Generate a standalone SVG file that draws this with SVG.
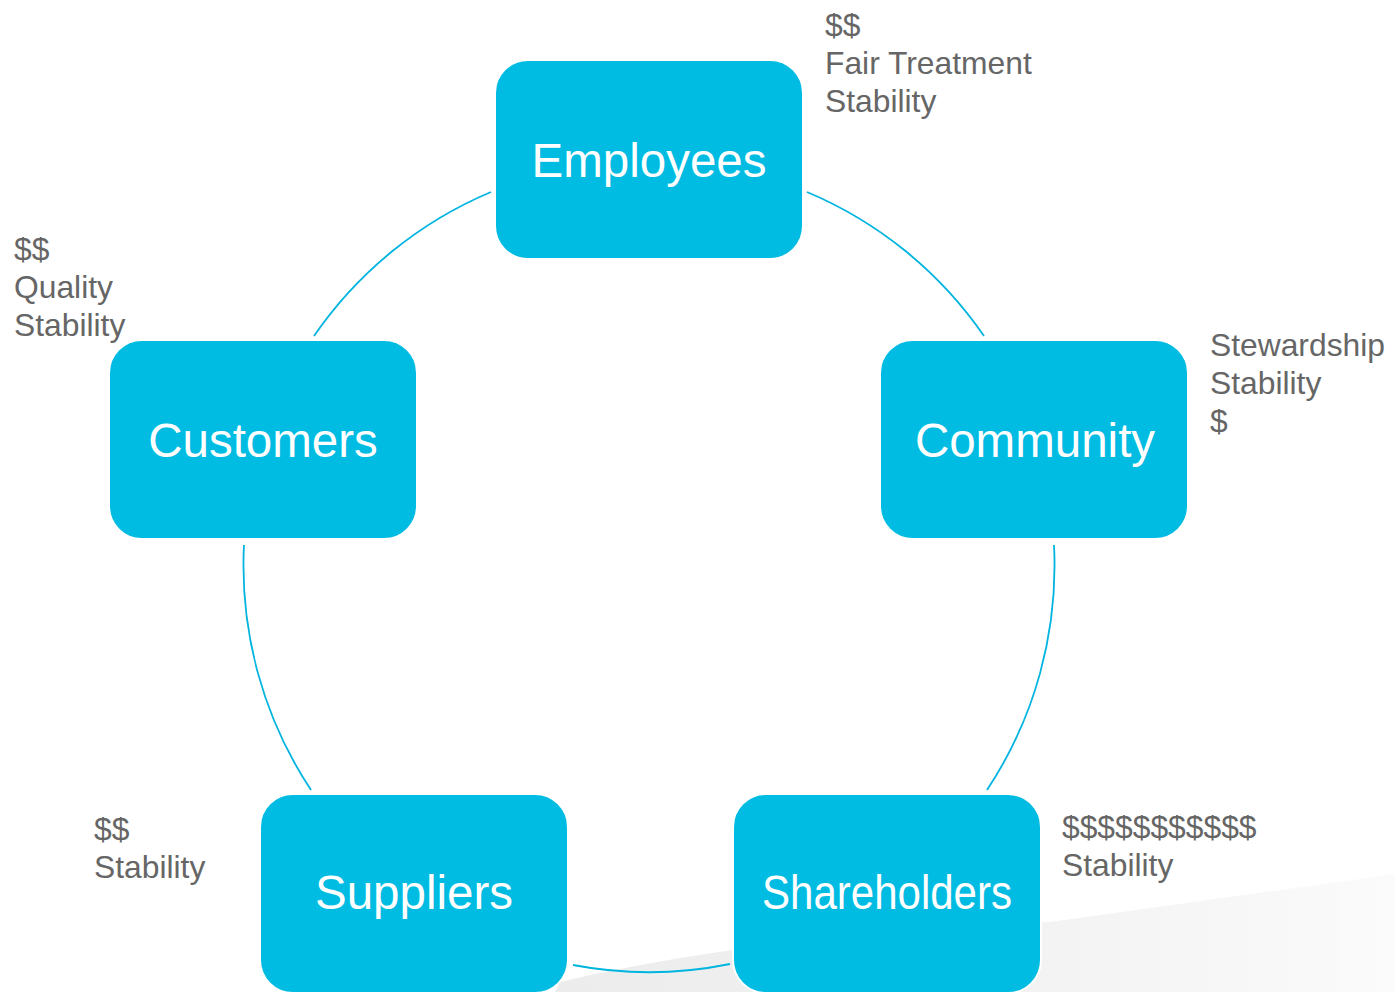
<svg xmlns="http://www.w3.org/2000/svg" width="1395" height="992" viewBox="0 0 1395 992">
<defs>
<linearGradient id="floor" x1="0" y1="0" x2="1" y2="0">
<stop offset="0" stop-color="#ececec"/>
<stop offset="0.6" stop-color="#f3f3f3"/>
<stop offset="1" stop-color="#fbfbfb"/>
</linearGradient>
<style>
.box{fill:#00bce3;stroke:#ffffff;stroke-width:2}
.lbl{font-family:"Liberation Sans",Arial,sans-serif;font-size:47.5px;fill:#ffffff;text-anchor:middle}
.note{font-family:"Liberation Sans",Arial,sans-serif;font-size:31.8px;fill:#666666}
.arc{fill:none;stroke:#00b4e0;stroke-width:1.8}
</style>
</defs>
<rect width="1395" height="992" fill="#ffffff"/>
<path d="M555,992 L560,982 Q760,935 1050,922 L1395,874 L1395,992 Z" fill="url(#floor)"/>
<g id="connectors">
<path class="arc" d="M807,192 A406,406 0 0 1 984,336"/>
<path class="arc" d="M1054,545 A406,406 0 0 1 987,790"/>
<path class="arc" d="M730,964 A406,406 0 0 1 573,965"/>
<path class="arc" d="M311,790 A406,406 0 0 1 244,545"/>
<path class="arc" d="M314,336 A406,406 0 0 1 491,192"/>
</g>
<g id="employees">
<rect class="box" x="495" y="60" width="308" height="199" rx="33"/>
<text class="lbl" x="649" y="177">Employees</text>
</g>
<g id="community">
<rect class="box" x="880" y="340" width="308" height="199" rx="33"/>
<text class="lbl" x="1035" y="457">Community</text>
</g>
<g id="shareholders">
<rect class="box" x="733" y="794" width="308" height="199" rx="33"/>
<text class="lbl" x="887" y="909" font-size="45" textLength="250" lengthAdjust="spacingAndGlyphs">Shareholders</text>
</g>
<g id="suppliers">
<rect class="box" x="260" y="794" width="308" height="199" rx="33"/>
<text class="lbl" x="414" y="909">Suppliers</text>
</g>
<g id="customers">
<rect class="box" x="109" y="340" width="308" height="199" rx="33"/>
<text class="lbl" x="263" y="457">Customers</text>
</g>
<g id="notes-employees">
<text class="note" x="825" y="36">$$</text>
<text class="note" x="825" y="74">Fair Treatment</text>
<text class="note" x="825" y="112">Stability</text>
</g>
<g id="notes-community">
<text class="note" x="1210" y="356">Stewardship</text>
<text class="note" x="1210" y="394">Stability</text>
<text class="note" x="1210" y="432">$</text>
</g>
<g id="notes-shareholders">
<text class="note" x="1062" y="838">$$$$$$$$$$$</text>
<text class="note" x="1062" y="876">Stability</text>
</g>
<g id="notes-suppliers">
<text class="note" x="94" y="840">$$</text>
<text class="note" x="94" y="878">Stability</text>
</g>
<g id="notes-customers">
<text class="note" x="14" y="260">$$</text>
<text class="note" x="14" y="298">Quality</text>
<text class="note" x="14" y="336">Stability</text>
</g>
</svg>
